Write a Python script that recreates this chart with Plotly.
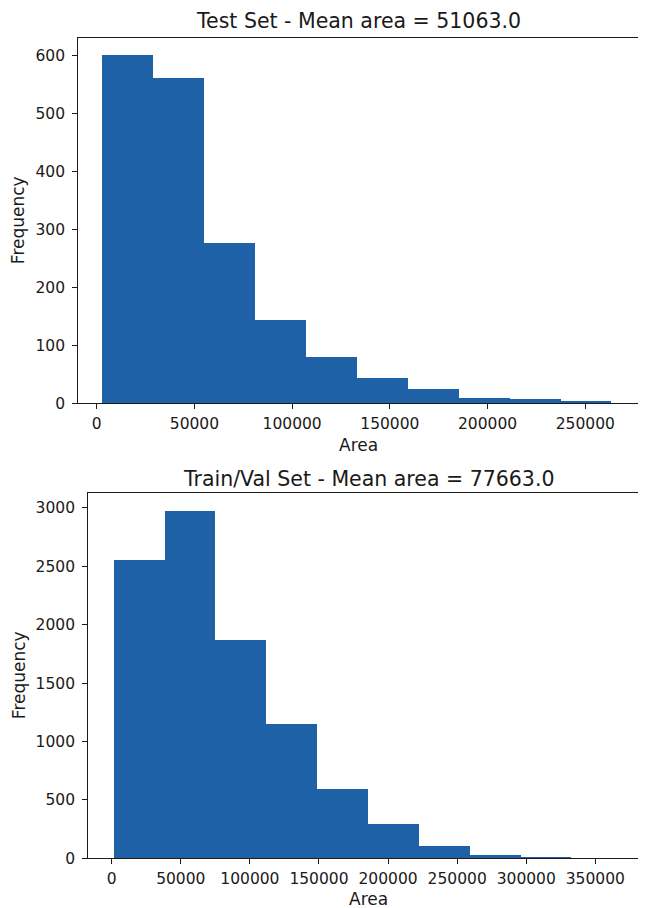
import plotly.graph_objects as go

# ---- data ----
test_edges = [3100, 29100, 55200, 81200, 107300, 133300, 159300, 185400, 211400, 237500, 263500]
test_counts = [600, 561, 276, 143, 79, 44, 24, 10, 7, 4]
test_title = "Test Set - Mean area = 51063.0"
test_xticks = [0, 50000, 100000, 150000, 200000, 250000]
test_yticks = [0, 100, 200, 300, 400, 500, 600]

train_edges = [1700, 38500, 75300, 112100, 148900, 185700, 222500, 259300, 296100, 332900, 369700]
train_counts = [2557, 2974, 1870, 1153, 594, 294, 106, 31, 14, 1]
train_title = "Train/Val Set - Mean area = 77663.0"
train_xticks = [0, 50000, 100000, 150000, 200000, 250000, 300000, 350000]
train_yticks = [0, 500, 1000, 1500, 2000, 2500, 3000]

x_label = "Area"
y_label = "Frequency"

# ---- styling ----
OFF = 8  # page body margin of the browser
W, H = 646 - OFF, 908 - OFF
BAR = "#1f61a6"
INK = "#1a1a1a"
FONT = "DejaVu Sans"
TICK_SIZE = 15.5
LABEL_SIZE = 17
TITLE_SIZE = 20.5


def centers_widths(edges):
    c = [(a + b) / 2 for a, b in zip(edges[:-1], edges[1:])]
    w = [b - a for a, b in zip(edges[:-1], edges[1:])]
    return c, w


def px_x(p):
    return (p - OFF) / W


def px_y(p):
    return 1 - (p - OFF) / H


fig = go.Figure()

c1, w1 = centers_widths(test_edges)
fig.add_trace(go.Bar(x=c1, y=test_counts, width=w1, marker=dict(color=BAR, line=dict(width=0)),
                     xaxis="x", yaxis="y", showlegend=False))
c2, w2 = centers_widths(train_edges)
fig.add_trace(go.Bar(x=c2, y=train_counts, width=w2, marker=dict(color=BAR, line=dict(width=0)),
                     xaxis="x2", yaxis="y2", showlegend=False))

axis_common = dict(
    showgrid=False, zeroline=False, showline=True, linecolor=INK, linewidth=1.3,
    ticks="outside", ticklen=5, tickwidth=1.2, tickcolor=INK,
    tickfont=dict(family=FONT, size=TICK_SIZE, color=INK),
    tickformat="d", automargin=False, fixedrange=True,
)

# top plot area in screen pixels
T_L, T_R, T_T, T_B = 78.3, 638.0, 38.0, 403.3
# bottom plot area in screen pixels
B_L, B_R, B_T, B_B = 88.3, 646.0, 493.0, 858.3

fig.update_layout(
    width=W, height=H,
    margin=dict(l=0, r=0, t=0, b=0),
    paper_bgcolor="white", plot_bgcolor="white",
    bargap=0,
    xaxis=dict(axis_common, domain=[px_x(T_L), px_x(T_R)], range=[-9414, 276960],
               tickvals=test_xticks, mirror=True, anchor="y", ticklabelstandoff=1),
    yaxis=dict(axis_common, domain=[px_y(T_B), px_y(T_T)], range=[0, 629.8],
               tickvals=test_yticks, mirror=True, anchor="x", ticklabelstandoff=4),
    xaxis2=dict(axis_common, domain=[px_x(B_L), px_x(B_R)], range=[-16935, 386670],
                tickvals=train_xticks, mirror=True, anchor="y2", ticklabelstandoff=1),
    yaxis2=dict(axis_common, domain=[px_y(B_B), px_y(B_T)], range=[0, 3128],
                tickvals=train_yticks, mirror=False, anchor="x2", ticklabelstandoff=4),
)

ann_font_t = dict(family=FONT, size=TITLE_SIZE, color=INK)
ann_font_l = dict(family=FONT, size=LABEL_SIZE, color=INK)
annotations = [
    dict(text=test_title, x=px_x((T_L + T_R) / 2), y=px_y(21), font=ann_font_t),
    dict(text=train_title, x=px_x((B_L + 648) / 2), y=px_y(479), font=ann_font_t),
    dict(text=x_label, x=px_x((T_L + T_R) / 2), y=px_y(445), font=ann_font_l),
    dict(text=x_label, x=px_x((B_L + 648) / 2), y=px_y(899), font=ann_font_l),
    dict(text=y_label, x=px_x(17.5), y=px_y((T_T + T_B) / 2), font=ann_font_l, textangle=-90),
    dict(text=y_label, x=px_x(18.5), y=px_y((B_T + B_B) / 2), font=ann_font_l, textangle=-90),
]
for a in annotations:
    a.update(xref="paper", yref="paper", showarrow=False, xanchor="center", yanchor="middle")
fig.update_layout(annotations=annotations)

fig.write_html("out.html")
